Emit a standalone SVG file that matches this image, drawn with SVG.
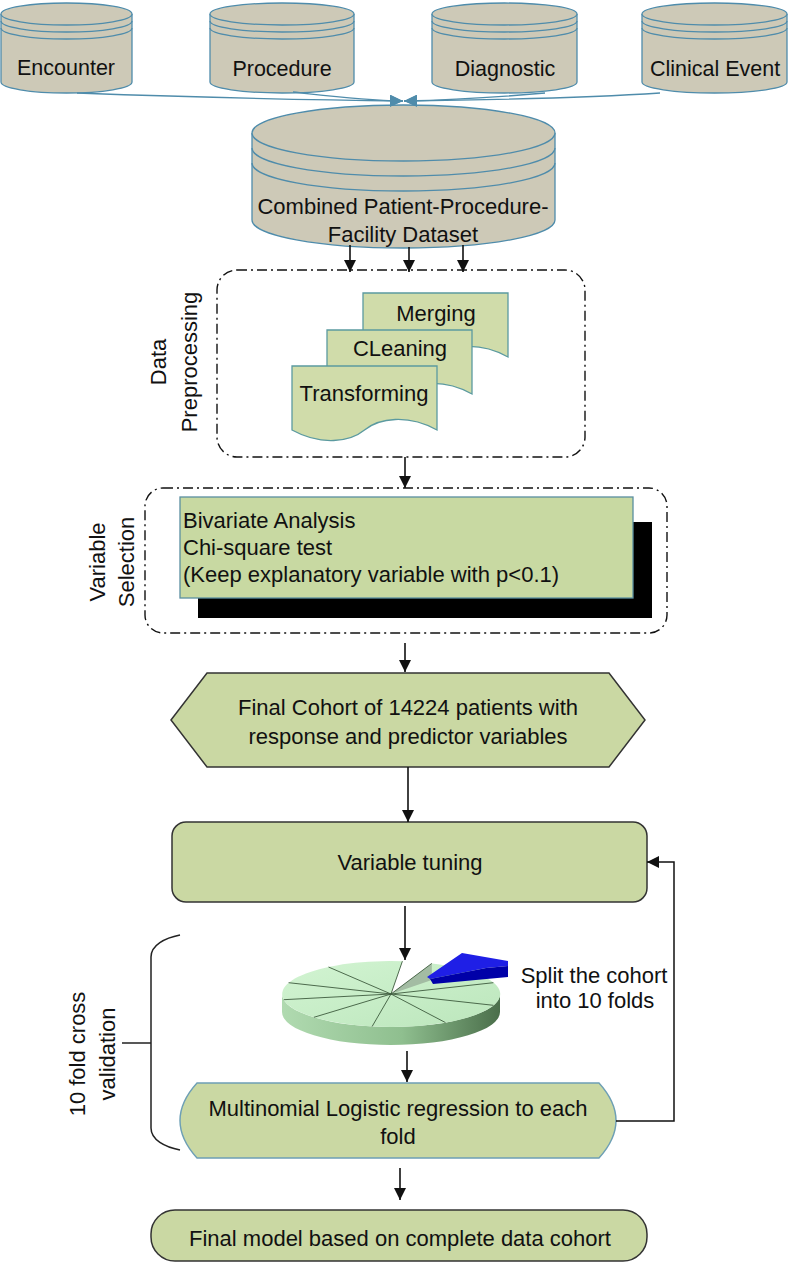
<svg xmlns="http://www.w3.org/2000/svg" width="788" height="1262" viewBox="0 0 788 1262">
<style>
text{font-family:"Liberation Sans",Arial,sans-serif;font-size:22px;fill:#111;}
.cyl{fill:#cdc9b7;stroke:#4f8cab;stroke-width:1.3;}
.cylL{fill:none;stroke:#4f8cab;stroke-width:1.3;}
.doc{fill:#d0dcaa;stroke:#5b9aa0;stroke-width:1.3;}
.node{fill:#cad8a3;stroke:#333;stroke-width:1.5;}
.dd{fill:none;stroke:#111;stroke-width:1.4;stroke-dasharray:10 4 2 4;}
.ar{fill:none;stroke:#111;stroke-width:1.6;marker-end:url(#ab);}
.bl{fill:none;stroke:#4f8cab;stroke-width:1.3;marker-end:url(#ablue);}
.ln{fill:none;stroke:#222;stroke-width:1.5;}
.pl{stroke:#3d5a3d;stroke-width:0.9;}
.mid{text-anchor:middle;}
</style>
<defs>
<marker id="ab" markerUnits="userSpaceOnUse" markerWidth="12" markerHeight="12" refX="12" refY="6" orient="auto"><path d="M0,0 L12,6 L0,12 Z" fill="#111"/></marker>
<marker id="ablue" markerUnits="userSpaceOnUse" markerWidth="14" markerHeight="12" refX="13" refY="6" orient="auto"><path d="M0,0 L13,6 L0,12 Z" fill="#4f8cab"/></marker>
<linearGradient id="pieSide" x1="0" y1="0" x2="1" y2="0"><stop offset="0" stop-color="#b0dab0"/><stop offset="0.55" stop-color="#8fbf8f"/><stop offset="1" stop-color="#4a6e4a"/></linearGradient>
<linearGradient id="pieTop" x1="0" y1="0" x2="1" y2="1"><stop offset="0" stop-color="#d2f4d2"/><stop offset="1" stop-color="#bce6bc"/></linearGradient>
<path id="docShape" d="M0,0 H145 V64 C116,48 87,52 72.5,64 C58,76 29,80 0,64 Z"/>
</defs>

<g id="encounter">
<path class="cyl" d="M1,14 V82 A65.5,11 0 0,0 132,82 V14"/>
<ellipse class="cyl" cx="66.5" cy="14" rx="65.5" ry="11"/>
<path class="cylL" d="M1,21 A65.5,11 0 0,0 132,21 M1,28 A65.5,11 0 0,0 132,28"/>
<text class="mid" x="66" y="75" style="font-size:21.5px">Encounter</text>
</g>
<g id="procedure">
<path class="cyl" d="M210,14 V82 A72,11 0 0,0 354,82 V14"/>
<ellipse class="cyl" cx="282" cy="14" rx="72" ry="11"/>
<path class="cylL" d="M210,21 A72,11 0 0,0 354,21 M210,28 A72,11 0 0,0 354,28"/>
<text class="mid" x="282" y="76" style="font-size:21.5px">Procedure</text>
</g>
<g id="diagnostic">
<path class="cyl" d="M432,14 V82 A72.5,11 0 0,0 577,82 V14"/>
<ellipse class="cyl" cx="504.5" cy="14" rx="72.5" ry="11"/>
<path class="cylL" d="M432,21 A72.5,11 0 0,0 577,21 M432,28 A72.5,11 0 0,0 577,28"/>
<text class="mid" x="505" y="76" style="font-size:21.5px">Diagnostic</text>
</g>
<g id="clinical-event">
<path class="cyl" d="M642,14 V82 A72.5,11 0 0,0 787,82 V14"/>
<ellipse class="cyl" cx="714.5" cy="14" rx="72.5" ry="11"/>
<path class="cylL" d="M642,21 A72.5,11 0 0,0 787,21 M642,28 A72.5,11 0 0,0 787,28"/>
<text class="mid" x="715" y="76" style="font-size:21.5px">Clinical Event</text>
</g>

<g id="combined-dataset">
<path class="cyl" d="M252,133 V220 A151.5,28 0 0,0 555,220 V133"/>
<ellipse class="cyl" cx="403.5" cy="133" rx="151.5" ry="28"/>
<path class="cylL" d="M252,148 A151.5,28 0 0,0 555,148 M252,163 A151.5,28 0 0,0 555,163"/>
<text class="mid" x="403" y="214">Combined Patient-Procedure-</text>
<text class="mid" x="403" y="242">Facility Dataset</text>
</g>

<g id="data-preprocessing">
<rect class="dd" x="217" y="270" width="368" height="187" rx="20"/>
<text class="mid" transform="translate(166,362) rotate(-90)">Data</text>
<text class="mid" transform="translate(197,362) rotate(-90)">Preprocessing</text>
</g>
<g id="merging" transform="translate(363,293)">
<use href="#docShape" class="doc"/>
<text class="mid" x="73" y="28">Merging</text>
</g>
<g id="cleaning" transform="translate(327,330)">
<use href="#docShape" class="doc"/>
<text class="mid" x="73" y="26">CLeaning</text>
</g>
<g id="transforming" transform="translate(292,366)">
<use href="#docShape" class="doc"/>
<text class="mid" x="72" y="35">Transforming</text>
</g>

<g id="variable-selection">
<rect class="dd" x="145" y="488" width="522" height="145" rx="18"/>
<text class="mid" transform="translate(105,562) rotate(-90)">Variable</text>
<text class="mid" transform="translate(134,562) rotate(-90)">Selection</text>
<rect x="198" y="522" width="454" height="96" fill="#000"/>
<rect x="180" y="497" width="453" height="101" fill="#c8d9a2" stroke="#5a8fa0" stroke-width="1.3"/>
<text x="183" y="528">Bivariate Analysis</text>
<text x="183" y="555">Chi-square test</text>
<text x="183" y="582">(Keep explanatory variable with p&lt;0.1)</text>
</g>

<g id="final-cohort">
<polygon class="node" points="171,720 207,673 609,673 645,720 609,767 207,767"/>
<text class="mid" x="408" y="715">Final Cohort of 14224 patients with</text>
<text class="mid" x="408" y="744">response and predictor variables</text>
</g>

<g id="variable-tuning">
<rect class="node" x="172" y="822" width="475" height="80" rx="14"/>
<text class="mid" x="410" y="870">Variable tuning</text>
</g>

<g id="pie-folds">
<path d="M282,994 A109,33 0 0,0 500,994 L500,1012 A109,33 0 0,1 282,1012 Z" fill="url(#pieSide)"/>
<path d="M391,994 L431.8,963.4 A109,33 0 1,1 402.4,961.2 Z" fill="url(#pieTop)"/>
<polygon points="391,994 431.8,963.4 431.8,980" fill="#a3bca3"/>
<g class="pl">
<line x1="391" y1="994" x2="402.4" y2="961.2"/>
<line x1="391" y1="994" x2="431.8" y2="963.4"/>
<line x1="391" y1="994" x2="493.4" y2="982.7"/>
<line x1="391" y1="994" x2="493.4" y2="1005.3"/>
<line x1="391" y1="994" x2="445.5" y2="1022.6"/>
<line x1="391" y1="994" x2="372.1" y2="1026.5"/>
<line x1="391" y1="994" x2="313.9" y2="1017.3"/>
<line x1="391" y1="994" x2="283.7" y2="999.7"/>
<line x1="391" y1="994" x2="288.6" y2="982.7"/>
<line x1="391" y1="994" x2="328.5" y2="967"/>
</g>
<polygon points="427,977 462,953 508,961 508,966 486,968 430,979" fill="#1f1fe6"/>
<polygon points="430,979 486,968 508,966 508,977 433,984" fill="#0000a8"/>
<text class="mid" x="594" y="983">Split the cohort</text>
<text class="mid" x="595" y="1008">into 10 folds</text>
</g>

<g id="cross-validation">
<path class="ln" d="M180,935 C165,938 151,945 151,957 V1128 C151,1140 165,1147 180,1150 M122,1043 H151"/>
<text class="mid" transform="translate(85,1054) rotate(-90)">10 fold cross</text>
<text class="mid" transform="translate(115,1054) rotate(-90)">validation</text>
</g>

<g id="multinomial">
<path d="M197,1083 H599 Q633,1120.5 599,1158 H197 Q163,1120.5 197,1083 Z" fill="#cad8a3" stroke="#6d9fb5" stroke-width="1.4"/>
<text class="mid" x="398" y="1116">Multinomial Logistic regression to each</text>
<text class="mid" x="398" y="1144">fold</text>
</g>

<g id="final-model">
<rect class="node" x="151" y="1210" width="496" height="51" rx="24"/>
<text class="mid" x="400" y="1246">Final model based on complete data cohort</text>
</g>

<g id="connectors">
<path class="bl" d="M77,93 C160,96 300,100 403,101"/>
<path class="bl" d="M293,92 C330,96 360,100 403,101"/>
<path class="bl" d="M545,93 C500,97 450,100 404,101"/>
<path class="bl" d="M660,93 C600,97 480,100 404,101"/>
<path class="ar" d="M350,245 V272"/>
<path class="ar" d="M409,247 V272"/>
<path class="ar" d="M463,245 V272"/>
<path class="ar" d="M405,457 V488"/>
<path class="ar" d="M405,643 V672"/>
<path class="ar" d="M408,767 V822"/>
<path class="ar" d="M405,906 V960"/>
<path class="ar" d="M407,1051 V1082"/>
<path class="ar" d="M400,1168 V1200"/>
<path class="ar" d="M616,1121 H674 V862 H647" style="stroke-width:1.5"/>
</g>
</svg>
